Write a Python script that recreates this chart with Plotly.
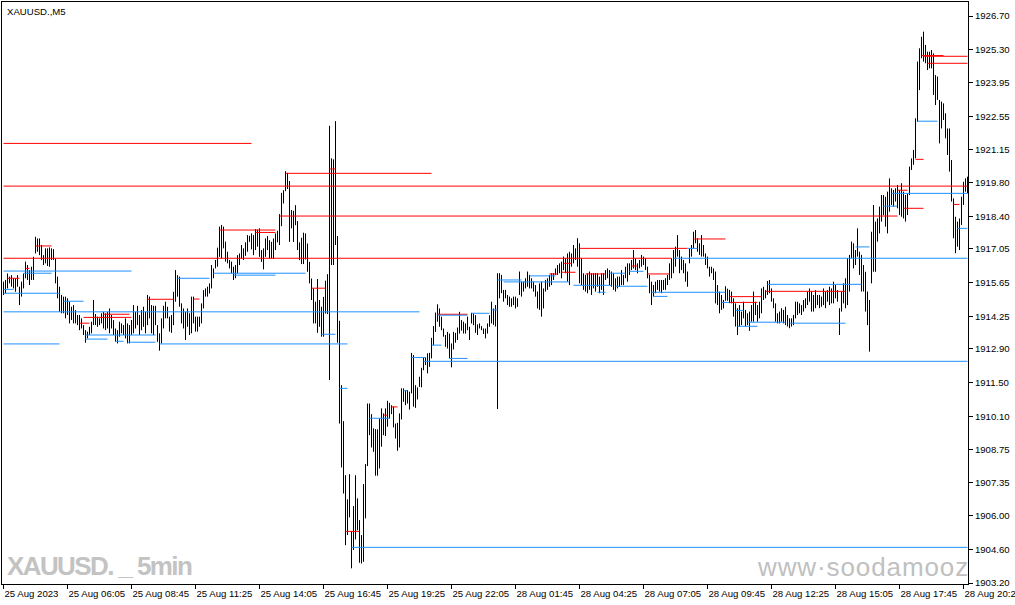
import plotly.graph_objects as go

# ---- OHLC bar ranges (XAUUSD M5), one value per bar ----
bar_high = [
    1915.69, 1915.76, 1916.03, 1915.90, 1915.96, 1915.83, 1915.83, 1915.96, 1915.48, 1915.69,
    1916.03, 1916.52, 1916.38, 1916.17, 1916.31, 1916.72, 1917.55, 1917.48, 1917.48, 1917.21,
    1916.79, 1917.07, 1917.07, 1917.11, 1917.07, 1917.04, 1916.65, 1915.90, 1915.48, 1915.14,
    1915.07, 1915.07, 1915.00, 1914.86, 1914.65, 1914.72, 1914.51, 1914.31, 1914.31, 1914.17,
    1913.89, 1913.68, 1913.62, 1913.82, 1914.03, 1914.93, 1914.35, 1914.24, 1914.17, 1914.38,
    1914.44, 1914.38, 1914.44, 1914.58, 1914.31, 1914.10, 1913.75, 1913.68, 1914.03, 1913.96,
    1913.89, 1914.17, 1913.96, 1913.89, 1914.10, 1914.72, 1914.44, 1914.69, 1914.31, 1914.51,
    1914.65, 1914.44, 1915.14, 1915.07, 1914.72, 1914.69, 1914.69, 1913.89, 1913.55, 1914.17,
    1914.69, 1914.86, 1914.65, 1914.24, 1914.31, 1915.27, 1916.17, 1915.96, 1915.90, 1914.79,
    1914.58, 1914.44, 1914.58, 1914.38, 1915.07, 1915.07, 1914.24, 1914.24, 1914.24, 1914.79,
    1915.34, 1915.41, 1915.48, 1915.62, 1916.38, 1916.24, 1916.59, 1917.10, 1917.97, 1918.04,
    1917.97, 1917.35, 1916.93, 1916.59, 1916.52, 1916.31, 1916.38, 1916.79, 1916.86, 1917.21,
    1917.07, 1917.32, 1917.62, 1917.59, 1917.69, 1917.62, 1917.87, 1917.85, 1917.90, 1917.00,
    1917.07, 1917.48, 1917.58, 1917.41, 1917.34, 1917.48, 1917.69, 1917.80, 1918.49, 1919.37,
    1919.48, 1920.27, 1920.20, 1919.86, 1918.66, 1918.63, 1918.86, 1918.20, 1917.32, 1917.51,
    1917.72, 1917.69, 1917.27, 1916.51, 1915.82, 1915.41, 1914.86, 1915.80, 1914.93, 1914.65,
    1915.06, 1915.73, 1916.00, 1922.15, 1920.80, 1920.76, 1922.34, 1917.58, 1914.07, 1911.40,
    1909.91, 1907.67, 1906.67, 1907.71, 1905.35, 1906.39, 1907.67, 1906.71, 1905.81, 1905.19,
    1907.30, 1908.13, 1910.64, 1910.64, 1910.20, 1909.61, 1909.58, 1909.57, 1910.02, 1910.44,
    1910.23, 1910.44, 1910.75, 1910.67, 1910.57, 1910.51, 1909.81, 1909.84, 1910.23, 1911.27,
    1911.27, 1911.20, 1911.20, 1911.13, 1912.74, 1912.65, 1911.40, 1911.31, 1911.75, 1912.12,
    1912.55, 1912.55, 1912.72, 1912.74, 1913.36, 1913.85, 1914.41, 1914.75, 1914.58, 1914.24,
    1913.75, 1913.48, 1913.61, 1913.54, 1913.13, 1913.61, 1913.57, 1913.79, 1914.44, 1914.10,
    1914.03, 1913.96, 1914.24, 1913.82, 1914.40, 1914.37, 1914.30, 1913.92, 1913.96, 1913.85,
    1913.75, 1913.75, 1913.96, 1914.30, 1914.86, 1914.58, 1914.72, 1916.04, 1916.04, 1915.97,
    1915.35, 1915.35, 1915.14, 1915.07, 1915.00, 1915.07, 1915.07, 1915.00, 1916.11, 1915.69,
    1915.69, 1915.83, 1916.11, 1915.97, 1915.83, 1915.69, 1915.55, 1915.28, 1915.62, 1915.69,
    1915.41, 1915.76, 1915.83, 1915.97, 1916.04, 1916.04, 1916.24, 1916.38, 1916.45, 1916.52,
    1916.73, 1916.66, 1916.86, 1916.93, 1916.86, 1917.21, 1917.07, 1917.49, 1917.28, 1916.66,
    1916.04, 1915.97, 1916.04, 1916.11, 1916.04, 1916.04, 1916.04, 1916.04, 1915.90, 1916.04,
    1916.04, 1916.17, 1916.24, 1916.17, 1916.11, 1916.04, 1915.83, 1915.90, 1915.90, 1916.17,
    1915.97, 1916.31, 1916.45, 1916.45, 1916.59, 1917.00, 1916.66, 1916.45, 1916.59, 1916.80,
    1916.73, 1916.66, 1916.31, 1915.97, 1915.69, 1915.55, 1915.69, 1915.76, 1915.76, 1915.76,
    1915.76, 1915.83, 1915.97, 1916.45, 1916.66, 1917.00, 1917.14, 1917.62, 1917.00, 1916.73,
    1916.59, 1916.45, 1916.11, 1917.07, 1917.21, 1917.76, 1917.83, 1917.49, 1917.28, 1917.62,
    1917.21, 1916.86, 1916.73, 1916.31, 1916.31, 1916.24, 1916.11, 1915.55, 1915.28, 1915.14,
    1914.93, 1915.50, 1915.40, 1915.35, 1915.28, 1915.00, 1914.79, 1914.59, 1914.72, 1914.45,
    1914.86, 1914.52, 1914.38, 1914.45, 1914.72, 1915.28, 1914.86, 1914.72, 1914.86, 1915.41,
    1915.48, 1915.34, 1915.72, 1915.76, 1915.41, 1915.00, 1914.79, 1914.38, 1914.45, 1914.59,
    1914.52, 1914.65, 1914.31, 1914.17, 1914.17, 1914.31, 1914.86, 1914.86, 1914.79, 1914.72,
    1914.93, 1915.00, 1915.28, 1915.41, 1915.28, 1915.14, 1915.34, 1915.14, 1915.14, 1915.07,
    1915.41, 1915.28, 1915.34, 1915.48, 1915.41, 1915.69, 1915.55, 1915.34, 1914.59, 1915.28,
    1915.62, 1915.83, 1916.66, 1916.80, 1917.35, 1917.28, 1917.00, 1917.90, 1916.93, 1916.80,
    1916.38, 1916.10, 1915.28, 1914.93, 1917.76, 1918.87, 1918.18, 1918.31, 1918.80, 1919.28,
    1919.28, 1919.21, 1919.42, 1919.97, 1919.56, 1919.49, 1919.56, 1919.70, 1919.49, 1919.77,
    1919.42, 1919.28, 1919.35, 1920.46, 1920.80, 1921.15, 1922.46, 1924.81, 1925.36, 1925.84,
    1926.05, 1925.50, 1925.22, 1925.22, 1925.29, 1925.15, 1924.25, 1924.19, 1923.22, 1923.15,
    1923.08, 1922.67, 1922.04, 1922.04, 1920.73, 1919.14, 1918.38, 1918.18, 1918.31, 1919.21,
    1919.83, 1919.97, 1920.04,
]

bar_low = [
    1915.14, 1915.20, 1915.41, 1915.62, 1915.48, 1915.41, 1915.27, 1915.48, 1914.72, 1915.07,
    1915.41, 1915.83, 1915.76, 1915.55, 1915.76, 1915.76, 1916.86, 1916.93, 1916.79, 1916.59,
    1916.38, 1916.45, 1916.34, 1916.31, 1916.59, 1916.59, 1915.62, 1915.00, 1914.44, 1914.38,
    1914.38, 1914.17, 1914.31, 1913.96, 1914.10, 1913.96, 1913.96, 1913.89, 1913.68, 1913.75,
    1913.48, 1913.16, 1913.34, 1913.48, 1913.55, 1913.89, 1913.89, 1913.82, 1913.89, 1913.96,
    1913.75, 1913.68, 1913.75, 1913.55, 1913.75, 1913.48, 1913.20, 1913.13, 1913.41, 1913.55,
    1913.48, 1913.34, 1913.13, 1913.13, 1913.48, 1913.55, 1913.75, 1913.89, 1913.48, 1913.68,
    1913.82, 1913.55, 1913.89, 1914.17, 1913.55, 1913.48, 1913.89, 1913.20, 1912.83, 1913.13,
    1913.75, 1914.17, 1914.17, 1913.62, 1913.57, 1913.89, 1914.86, 1915.07, 1914.65, 1913.96,
    1913.75, 1913.27, 1913.82, 1913.48, 1913.55, 1913.96, 1913.62, 1913.62, 1913.82, 1913.96,
    1914.58, 1915.07, 1915.07, 1915.20, 1915.41, 1915.83, 1916.24, 1916.31, 1916.72, 1916.65,
    1917.07, 1916.52, 1916.45, 1916.24, 1916.03, 1915.76, 1915.83, 1916.03, 1916.38, 1916.65,
    1916.59, 1916.76, 1916.93, 1917.34, 1917.03, 1916.79, 1917.00, 1917.14, 1916.72, 1916.51,
    1916.20, 1916.72, 1917.00, 1916.65, 1916.65, 1916.63, 1917.00, 1917.32, 1917.21, 1917.99,
    1918.93, 1919.44, 1919.53, 1917.34, 1917.90, 1917.34, 1918.03, 1917.00, 1916.58, 1916.42,
    1916.42, 1916.61, 1916.10, 1915.62, 1914.93, 1913.96, 1913.96, 1913.57, 1913.82, 1913.41,
    1913.41, 1914.37, 1914.35, 1911.61, 1916.38, 1916.38, 1917.21, 1913.16, 1909.81, 1907.99,
    1906.91, 1904.77, 1905.19, 1905.92, 1903.81, 1904.57, 1905.01, 1905.39, 1904.04, 1904.01,
    1904.08, 1905.88, 1908.05, 1909.33, 1908.82, 1908.64, 1907.65, 1907.65, 1907.95, 1908.85,
    1909.33, 1909.29, 1909.68, 1910.02, 1910.20, 1909.65, 1909.19, 1908.68, 1908.82, 1909.98,
    1910.71, 1910.57, 1910.64, 1910.39, 1911.06, 1910.51, 1910.46, 1910.81, 1911.33, 1911.31,
    1912.02, 1912.23, 1911.89, 1912.16, 1912.51, 1913.06, 1913.61, 1914.03, 1913.82, 1913.68,
    1913.41, 1912.99, 1912.92, 1912.51, 1912.14, 1912.88, 1913.16, 1913.27, 1913.54, 1913.66,
    1913.54, 1913.54, 1913.68, 1913.27, 1913.96, 1913.89, 1913.57, 1913.48, 1913.75, 1913.68,
    1913.52, 1913.34, 1913.54, 1913.82, 1913.96, 1913.90, 1913.83, 1910.41, 1915.00, 1915.21,
    1914.86, 1915.00, 1914.72, 1914.65, 1914.65, 1914.72, 1914.58, 1914.65, 1915.14, 1915.07,
    1915.28, 1915.41, 1915.48, 1915.41, 1915.41, 1915.28, 1915.07, 1914.58, 1914.52, 1914.24,
    1914.58, 1915.28, 1915.35, 1915.48, 1915.55, 1915.76, 1915.97, 1915.97, 1916.04, 1915.83,
    1916.17, 1916.04, 1915.69, 1915.55, 1916.31, 1916.45, 1916.59, 1916.31, 1915.62, 1915.55,
    1915.35, 1915.28, 1915.21, 1915.35, 1915.14, 1915.41, 1915.28, 1915.48, 1915.21, 1915.35,
    1915.14, 1915.76, 1915.83, 1915.55, 1915.48, 1915.35, 1915.28, 1915.41, 1915.48, 1915.55,
    1915.55, 1915.83, 1915.69, 1915.97, 1916.17, 1916.24, 1916.17, 1916.04, 1916.24, 1916.31,
    1916.38, 1916.17, 1915.83, 1915.21, 1914.72, 1915.07, 1915.21, 1915.35, 1915.28, 1915.21,
    1915.35, 1915.35, 1915.55, 1915.76, 1915.83, 1916.04, 1916.31, 1916.73, 1916.04, 1916.17,
    1916.04, 1915.69, 1915.48, 1916.45, 1916.73, 1917.07, 1917.28, 1916.93, 1916.80, 1916.73,
    1916.73, 1916.38, 1916.24, 1915.90, 1916.04, 1915.76, 1914.79, 1914.72, 1914.38, 1914.52,
    1914.58, 1914.90, 1914.90, 1914.80, 1914.79, 1914.24, 1913.83, 1913.48, 1913.83, 1913.89,
    1914.17, 1913.83, 1913.89, 1913.65, 1914.03, 1914.03, 1914.31, 1914.03, 1914.17, 1914.38,
    1914.93, 1915.00, 1915.14, 1915.21, 1914.86, 1914.59, 1914.03, 1913.96, 1913.96, 1914.03,
    1913.96, 1913.89, 1913.83, 1913.76, 1913.83, 1913.89, 1914.17, 1914.31, 1914.38, 1914.31,
    1914.45, 1914.59, 1914.72, 1914.86, 1914.45, 1914.45, 1914.59, 1914.72, 1914.59, 1914.65,
    1914.72, 1914.59, 1914.86, 1914.72, 1914.79, 1914.79, 1915.00, 1914.86, 1913.48, 1914.45,
    1914.79, 1914.59, 1914.72, 1915.28, 1916.66, 1916.24, 1916.38, 1916.73, 1915.97, 1915.28,
    1915.28, 1914.45, 1913.89, 1912.79, 1915.62, 1916.10, 1916.10, 1917.35, 1917.69, 1918.18,
    1918.45, 1917.97, 1917.69, 1918.59, 1918.87, 1918.80, 1919.01, 1918.73, 1918.45, 1918.38,
    1918.31, 1918.18, 1918.45, 1919.28, 1920.32, 1920.53, 1920.80, 1922.32, 1923.63, 1924.95,
    1924.81, 1924.74, 1924.46, 1924.53, 1924.53, 1923.43, 1923.01, 1923.22, 1921.42, 1922.04,
    1922.39, 1921.63, 1920.94, 1920.25, 1919.01, 1917.49, 1916.87, 1917.14, 1917.00, 1918.04,
    1918.87, 1919.42, 1919.35,
]

# ---- resistance (red) levels: price, first bar, last bar ----
red_price = [1919.65, 1916.66, 1921.42, 1920.18, 1918.41, 1917.83, 1917.73, 1916.24, 1915.83,
             1917.17, 1914.21, 1914.34, 1913.97, 1914.96, 1914.97, 1915.42, 1905.34, 1910.16,
             1910.50, 1914.34, 1917.07, 1917.46, 1916.01, 1916.08, 1916.45, 1916.01, 1916.34,
             1916.01, 1915.07, 1914.83, 1915.29, 1918.73, 1919.48, 1920.76, 1925.06, 1925.03,
             1924.74, 1918.89, 1920.36]
red_from = [0, 0, 0, 141, 138, 108, 126, 11, 2, 16, 40, 50, 38, 72, 95, 154, 171, 190, 194, 217,
            288, 345, 273, 279, 280, 291, 314, 322, 363, 363, 381, 450, 447, 456, 459, 460, 462,
            475, 163]
red_to = [482, 334, 124, 214, 447, 136, 136, 13, 8, 24, 64, 63, 43, 85, 98, 161, 178, 192, 197,
          232, 342, 361, 277, 286, 284, 301, 317, 333, 379, 377, 421, 460, 452, 460, 470, 482,
          482, 478, 166]

# ---- support (blue) levels: price, first bar, last bar ----
blue_price = [1916.66, 1916.13, 1916.04, 1915.37, 1915.21, 1914.88, 1914.44, 1913.48, 1913.31,
              1913.22, 1913.18, 1913.11, 1913.11, 1915.83, 1916.04, 1915.96, 1913.51, 1911.27,
              1904.68, 1910.03, 1911.17, 1912.55, 1912.39, 1913.06, 1914.30, 1912.51, 1914.38,
              1914.52, 1917.07, 1915.76, 1915.68, 1915.93, 1915.54, 1915.25, 1916.04, 1915.50,
              1916.12, 1915.25, 1915.08, 1914.83, 1914.50, 1913.84, 1914.01, 1913.97, 1915.58,
              1917.13, 1918.82, 1919.35, 1922.34, 1917.90]
blue_from = [335, 0, 10, 0, 0, 30, 0, 41, 41, 56, 62, 0, 78, 87, 105, 115, 159, 168, 174, 183,
             200, 204, 210, 214, 217, 223, 234, 244, 342, 247, 250, 263, 285, 297, 303, 306, 313,
             324, 325, 359, 366, 367, 372, 393, 382, 426, 440, 444, 457, 477]
blue_to = [482, 64, 24, 5, 28, 40, 208, 76, 52, 60, 76, 28, 172, 103, 151, 136, 166, 172, 482,
           193, 202, 211, 482, 219, 232, 232, 243, 247, 347, 259, 283, 276, 304, 301, 311, 322,
           320, 361, 332, 363, 370, 377, 391, 421, 429, 433, 447, 482, 467, 482]

# ---- axis labels ----
time_tick_bars = [0, 32, 64, 96, 128, 160, 192, 224, 256, 288, 320, 352, 384, 416, 448, 480]
time_tick_text = ["25 Aug 2023", "25 Aug 06:05", "25 Aug 08:45", "25 Aug 11:25", "25 Aug 14:05",
                  "25 Aug 16:45", "25 Aug 19:25", "25 Aug 22:05", "28 Aug 01:45", "28 Aug 04:25",
                  "28 Aug 07:05", "28 Aug 09:45", "28 Aug 12:25", "28 Aug 15:05", "28 Aug 17:45",
                  "28 Aug 20:25"]
price_ticks = [1926.70, 1925.30, 1923.95, 1922.55, 1921.15, 1919.80, 1918.40, 1917.05, 1915.65,
               1914.25, 1912.90, 1911.50, 1910.10, 1908.75, 1907.35, 1906.00, 1904.60, 1903.20]

assert len(bar_high) == len(bar_low)
n = len(bar_high)

bx, by = [], []
for i in range(n):
    bx += [i, i, None]
    by += [bar_low[i], bar_high[i], None]


def seg(prices, starts, ends):
    xs, ys = [], []
    for p, a, b in zip(prices, starts, ends):
        xs += [a, b, None]
        ys += [p, p, None]
    return xs, ys


rx, ry = seg(red_price, red_from, red_to)
blx, bly = seg(blue_price, blue_from, blue_to)

fig = go.Figure()
fig.add_trace(go.Scatter(x=bx, y=by, mode="lines", line=dict(color="#000000", width=1),
                         hoverinfo="skip", showlegend=False))
fig.add_trace(go.Scatter(x=rx, y=ry, mode="lines", line=dict(color="#FF0000", width=1),
                         hoverinfo="skip", showlegend=False))
fig.add_trace(go.Scatter(x=blx, y=bly, mode="lines", line=dict(color="#1E90FF", width=1),
                         hoverinfo="skip", showlegend=False))

tick_font = dict(family="Liberation Sans, Arial, sans-serif", size=9.6, color="#000000")

fig.update_layout(
    template="none",
    width=1015, height=605,
    margin=dict(l=2, r=47, t=2, b=21, pad=0),
    paper_bgcolor="#FFFFFF", plot_bgcolor="#FFFFFF",
    showlegend=False,
    xaxis=dict(range=[-0.75, 482.25], showgrid=False, zeroline=False, automargin=False,
               showline=True, mirror=True, linecolor="#000000", linewidth=1,
               tickmode="array", tickvals=time_tick_bars, ticktext=time_tick_text,
               ticks="outside", ticklen=4, tickcolor="#000000", tickwidth=1, tickangle=0,
               ticklabelposition="outside right", ticklabeloverflow="allow",
               tickfont=tick_font, fixedrange=True),
    yaxis=dict(range=[1903.161, 1927.280], side="right", showgrid=False, zeroline=False,
               automargin=False, ticklabeloverflow="allow",
               showline=True, mirror=True, linecolor="#000000", linewidth=1,
               tickmode="array", tickvals=price_ticks,
               ticktext=[f"{v:.2f}" for v in price_ticks],
               ticks="outside", ticklen=4, tickcolor="#000000", tickwidth=1,
               tickfont=tick_font, fixedrange=True),
    annotations=[
        dict(text="XAUUSD.,M5", xref="paper", yref="paper", x=0, y=1, xanchor="left",
             yanchor="top", xshift=3, yshift=-2, showarrow=False,
             font=dict(family="Liberation Sans, Arial, sans-serif", size=9.6, color="#000000")),
        dict(text="<b><span style='letter-spacing:-1.6px'>XAUUSD. _ 5min</span></b>",
             xref="paper", yref="paper", x=0, y=0,
             xanchor="left", yanchor="bottom", xshift=3, yshift=1, showarrow=False,
             font=dict(family="Liberation Sans, Arial, sans-serif",
                       size=26, color="#C3C3C3")),
        dict(text="<span style='letter-spacing:0.9px'>www·soodamooz</span>",
             xref="paper", yref="paper", x=0.779, y=0,
             xanchor="left", yanchor="bottom", yshift=0, showarrow=False,
             font=dict(family="Liberation Sans, Arial, sans-serif", size=26, color="#C0C0C0")),
    ],
)

fig.write_html("out.html", config={"displayModeBar": False},
               post_script="document.body.style.margin='0';")
